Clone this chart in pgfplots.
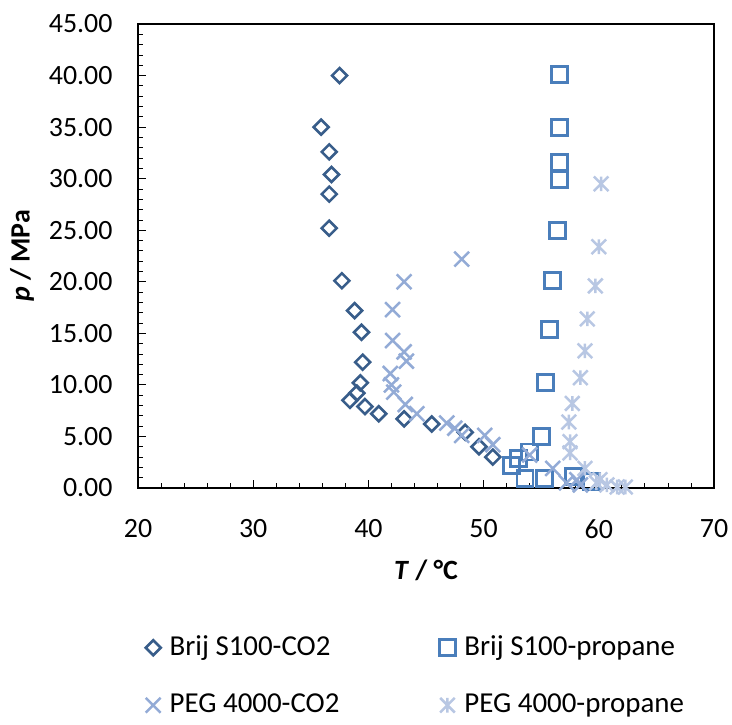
\documentclass[border=0pt]{standalone}
\usepackage{pgfplots}
\pgfplotsset{compat=1.18}
\usepackage{fontspec}
\setmainfont{Carlito}
\definecolor{cA}{HTML}{385D8A}
\definecolor{cB}{HTML}{4A7EBB}
\definecolor{cC}{HTML}{93ABD6}
\definecolor{cD}{HTML}{B8C7E3}
\pgfdeclareplotmark{xstar}{%
  \pgfpathmoveto{\pgfqpoint{-\pgfplotmarksize}{-\pgfplotmarksize}}%
  \pgfpathlineto{\pgfqpoint{\pgfplotmarksize}{\pgfplotmarksize}}%
  \pgfpathmoveto{\pgfqpoint{-\pgfplotmarksize}{\pgfplotmarksize}}%
  \pgfpathlineto{\pgfqpoint{\pgfplotmarksize}{-\pgfplotmarksize}}%
  \pgfpathmoveto{\pgfqpoint{0pt}{-\pgfplotmarksize}}%
  \pgfpathlineto{\pgfqpoint{0pt}{\pgfplotmarksize}}%
  \pgfusepathqstroke}
\begin{document}
\fontsize{28}{34}\selectfont
\begin{tikzpicture}
\begin{axis}[
  at={(0,0)}, anchor=south west,
  width=576bp, height=464bp, scale only axis,
  xmin=20, xmax=70, ymin=0, ymax=45,
  xtick={20,30,...,70}, ytick={0,5,...,45},
  minor x tick num=4, minor y tick num=4,
  tick align=inside, tick pos=left,
  major tick length=8bp, minor tick length=5bp,
  axis line style={line width=1.1bp},
  every tick/.style={black, line width=0.8bp},
  yticklabel style={/pgf/number format/.cd, fixed, fixed zerofill, precision=2, /tikz/.cd, xshift=-16bp},
  xticklabel style={yshift=-22bp},
  /pgf/number format/assume math mode=true,
  tick label style={font=\fontsize{28}{34}\selectfont},
  xlabel={\textbf{\textit{T} / °C}},
  ylabel={\textbf{\textit{p} / MPa}},
  label style={font=\fontsize{28}{34}\selectfont},
  xlabel style={yshift=-3bp},
  ylabel style={yshift=-4bp},
  clip=false,
  legend columns=2,
  legend style={at={(0.013,-0.3136)}, anchor=north west, draw=none, fill=none, inner sep=0pt,
    row sep=30bp, font=\fontsize{29}{35}\selectfont,
    /tikz/every odd column/.append style={column sep=7bp},
    /tikz/every even column/.append style={column sep=98bp}},
  legend cell align=left,
  legend image code/.code={\draw[#1,mark repeat=2,mark phase=2] plot coordinates {(0cm,0cm) (0.25cm,0cm) (0.5cm,0cm)};},
]
\addplot[only marks, mark=square, mark size=5.3bp, mark options={rotate=45, draw=cA, line width=2.6bp, fill=none}] table {
37.5 40.0
35.9 35.0
36.6 32.6
36.8 30.4
36.6 28.5
36.6 25.2
37.7 20.1
38.8 17.2
39.4 15.1
39.5 12.2
39.3 10.2
39.0 9.2
38.4 8.5
39.7 7.9
40.9 7.2
43.1 6.7
45.5 6.2
48.4 5.4
49.6 4.0
50.8 3.0
};
\addlegendentry{Brij S100-CO2}
\addplot[only marks, mark=square, mark size=8bp, mark options={draw=cB, line width=2.8bp, fill=none}] table {
56.6 40.1
56.6 35.0
56.6 31.6
56.6 29.9
56.4 25.0
56.0 20.1
55.7 15.4
55.4 10.2
55.0 5.0
54.0 3.5
53.0 2.9
52.4 2.2
53.6 0.9
55.3 0.9
57.8 1.1
59.4 0.6
};
\addlegendentry{Brij S100-propane}
\addplot[only marks, mark=x, mark size=10.5bp, mark options={draw=cC, line width=2.5bp}] table {
48.1 22.2
43.1 20.0
42.1 17.3
42.1 14.3
43.1 13.2
43.3 12.3
41.9 11.1
42.0 10.0
42.2 9.3
43.2 8.1
44.2 7.2
46.8 6.3
47.5 5.8
48.1 5.1
50.1 5.1
50.8 4.2
54.0 3.2
56.0 1.9
57.2 0.5
58.1 0.8
58.4 0.3
};
\addlegendentry{PEG 4000-CO2}
\addplot[only marks, mark=xstar, mark size=7.3bp, mark options={draw=cD, line width=2.5bp}] table {
60.2 29.5
60.0 23.4
59.7 19.6
59.0 16.4
58.8 13.3
58.4 10.7
57.7 8.2
57.4 6.4
57.5 4.5
57.5 3.4
58.8 1.9
59.8 0.5
60.1 0.8
60.7 0.3
61.6 0.1
62.3 0.1
};
\addlegendentry{PEG 4000-propane}
\end{axis}
\pgfresetboundingbox
\path (-138bp,-237bp) rectangle (594bp,488bp);
\end{tikzpicture}
\end{document}
